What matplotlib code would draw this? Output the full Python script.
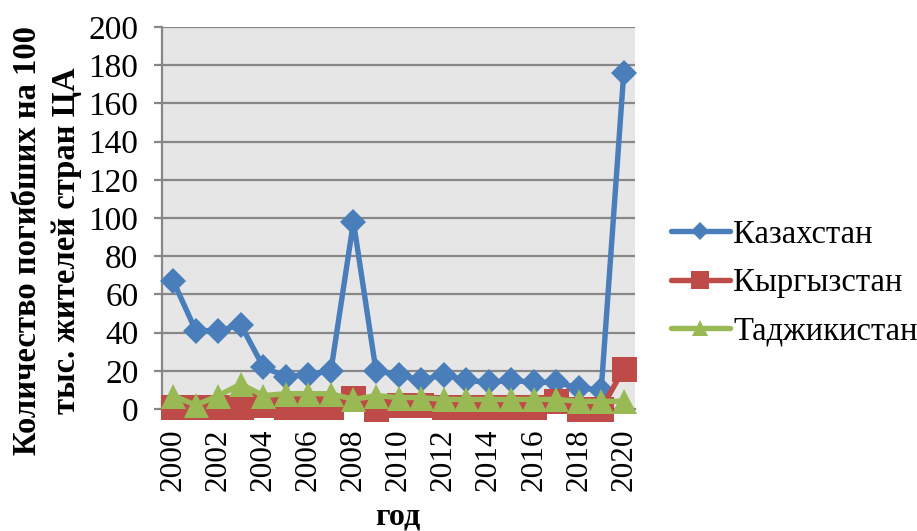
import matplotlib
matplotlib.use("Agg")
import matplotlib.pyplot as plt
from matplotlib.lines import Line2D

years = list(range(2000, 2021))
kazakhstan = [67, 41, 41, 44, 22, 17, 18, 20, 98, 20, 18, 15, 18, 15, 14, 15, 14, 14, 11, 10, 176]
kyrgyzstan = [1, 1, 1, 1, 2, 1, 1, 1, 6, 0, 2, 2, 1, 1, 1, 1, 1, 4, 0, 0, 21]
tajikistan = [7, 2, 7, 13, 7, 8, 8, 8, 5, 7, 6, 6, 5, 5, 5, 5, 5, 5, 4, 4, 4]
series_names = ["Казахстан", "Кыргызстан", "Таджикистан"]
y_ticks = list(range(0, 201, 20))
x_tick_labels = [str(y) for y in years[::2]]
ylabel = "Количество погибших на 100\nтыс. жителей стран ЦА"
xlabel = "год"

plt.rcParams['font.family'] = ['Liberation Serif', 'DejaVu Serif']

W, H = 917, 531
fig = plt.figure(figsize=(W / 100, H / 100), dpi=100)
ax = fig.add_axes([162 / W, (H - 409) / H, (635 - 162) / W, (409 - 27) / H])
ax.set_facecolor('#e6e6e6')

colors = ['#4a7ebb', '#be4b48', '#98b954']
markers = ['D', 's', '^']
msizes = [13, 18, 18]
leg_ms = [9, 13, 12]
data = [kazakhstan, kyrgyzstan, tajikistan]
xs = list(range(len(years)))

for d, c, m, ms, i in zip(data, colors, markers, msizes, range(3)):
    ax.plot(xs, d, color=c, lw=3.9, marker=m, markersize=ms, markeredgewidth=0,
            solid_joinstyle='round', solid_capstyle='round', clip_on=False, zorder=3 + i)

ax.set_xlim(-0.5, len(years) - 0.5)
ax.set_ylim(0, 200)
ax.set_yticks(y_ticks)
ax.set_yticklabels([str(v) for v in y_ticks])
ax.set_xticks(xs[::2])
ax.set_xticklabels(x_tick_labels, rotation=90, va='top', ha='center')

ax.grid(axis='y', color='#878787', lw=1.6)
ax.set_axisbelow(True)
for s in ['top', 'right']:
    ax.spines[s].set_visible(False)
for s in ['left', 'bottom']:
    ax.spines[s].set_color('#878787')
    ax.spines[s].set_linewidth(1.6)

ax.tick_params(axis='y', direction='out', length=6, width=1.6, color='#878787',
               pad=11, labelsize=24)
ax.tick_params(axis='x', length=0, pad=14, labelsize=22.5)

fig.text(47 / W, 1 - 241 / H, ylabel, rotation=90, ha='center', va='center',
         multialignment='center', fontsize=23.5, fontweight='bold', linespacing=1.3)
fig.text(398 / W, 1 - 517 / H, xlabel, ha='center', va='center',
         fontsize=23, fontweight='bold')

handles = [Line2D([0], [0], color=c, lw=3.9, marker=m, markersize=ms, markeredgewidth=0,
                  solid_capstyle='round')
           for c, m, ms in zip(colors, markers, leg_ms)]
leg = fig.legend(handles, series_names, loc='center left',
                 bbox_to_anchor=(671 / W, 1 - 283 / H), frameon=False,
                 fontsize=23.5, handlelength=1.8, handletextpad=0.1,
                 labelspacing=0.55, borderpad=0, borderaxespad=0)

fig.savefig('out.png', dpi=100)
